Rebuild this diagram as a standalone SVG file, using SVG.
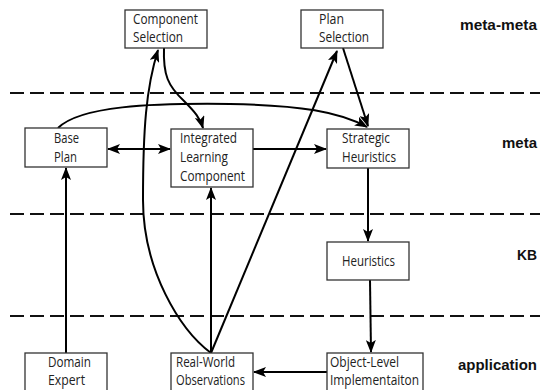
<svg xmlns="http://www.w3.org/2000/svg" width="540" height="390" viewBox="0 0 540 390">
<style>
.box{fill:#fff;stroke:#333;stroke-width:1.3}
.t{font-family:"Open Sans","Liberation Sans",sans-serif;font-size:14px;fill:#222}
.lab{font-family:"Liberation Sans",Arial,sans-serif;font-size:15px;font-weight:bold;fill:#111;text-anchor:end}
.dash{stroke:#111;stroke-width:2;stroke-dasharray:14 6;fill:none}
.c{stroke:#000;stroke-width:2;fill:none;marker-end:url(#ah)}
</style>
<defs>
<marker id="ah" viewBox="0 0 13 10" refX="12" refY="5" markerWidth="13" markerHeight="10" markerUnits="userSpaceOnUse" orient="auto-start-reverse">
<path d="M0,0 L13,5 L0,10 L3,5 z" fill="#000"/>
</marker>
</defs>
<g id="layers">
<line class="dash" x1="10" y1="93" x2="540" y2="93"/>
<line class="dash" x1="10" y1="214" x2="540" y2="214"/>
<line class="dash" x1="10" y1="316" x2="540" y2="316"/>
<text class="lab" x="537" y="30" textLength="77" lengthAdjust="spacingAndGlyphs">meta-meta</text>
<text class="lab" x="537" y="148" textLength="35" lengthAdjust="spacingAndGlyphs">meta</text>
<text class="lab" x="537" y="260" textLength="20" lengthAdjust="spacingAndGlyphs">KB</text>
<text class="lab" x="537" y="370" textLength="79" lengthAdjust="spacingAndGlyphs">application</text>
</g>
<g id="connectors">
<path class="c" d="M66,353 L66,168"/>
<path class="c" d="M108,149 L170,149" style="marker-start:url(#ah)"/>
<path class="c" d="M253,149 L326,149"/>
<path class="c" d="M58,128 C80,106 150,103 230,104 C300,105 340,112 367,127"/>
<path class="c" d="M164,48 C163,75 168,86 184,101 C195,112 200,118 203,128"/>
<path class="c" d="M211,353 L211,188"/>
<path class="c" d="M211,353 C180,330 143,270 143,200 C143,130 146,88 158,50"/>
<path class="c" d="M211,353 L337,51"/>
<path class="c" d="M343,48 L368,126"/>
<path class="c" d="M368,168 L368,241"/>
<path class="c" d="M370,280 L371,352"/>
<path class="c" d="M327,372 L254,372"/>
</g>
<g id="component-selection">
<rect class="box" x="125" y="10" width="82" height="38"/>
<text class="t" x="133" y="24" textLength="65" lengthAdjust="spacingAndGlyphs">Component</text>
<text class="t" x="133" y="42" textLength="50" lengthAdjust="spacingAndGlyphs">Selection</text>
</g>
<g id="plan-selection">
<rect class="box" x="301" y="10" width="82" height="38"/>
<text class="t" x="319" y="24" textLength="25" lengthAdjust="spacingAndGlyphs">Plan</text>
<text class="t" x="319" y="42" textLength="50" lengthAdjust="spacingAndGlyphs">Selection</text>
</g>
<g id="base-plan">
<rect class="box" x="25" y="128" width="82" height="39"/>
<text class="t" x="54" y="143" textLength="25" lengthAdjust="spacingAndGlyphs">Base</text>
<text class="t" x="54" y="162" textLength="23" lengthAdjust="spacingAndGlyphs">Plan</text>
</g>
<g id="integrated-learning-component">
<rect class="box" x="171" y="129" width="82" height="58"/>
<text class="t" x="180" y="143" textLength="57" lengthAdjust="spacingAndGlyphs">Integrated</text>
<text class="t" x="180" y="162" textLength="48" lengthAdjust="spacingAndGlyphs">Learning</text>
<text class="t" x="180" y="181" textLength="65" lengthAdjust="spacingAndGlyphs">Component</text>
</g>
<g id="strategic-heuristics">
<rect class="box" x="327" y="129" width="82" height="39"/>
<text class="t" x="342" y="143" textLength="48" lengthAdjust="spacingAndGlyphs">Strategic</text>
<text class="t" x="342" y="162" textLength="54" lengthAdjust="spacingAndGlyphs">Heuristics</text>
</g>
<g id="heuristics">
<rect class="box" x="327" y="242" width="82" height="38"/>
<text class="t" x="342" y="266" textLength="53" lengthAdjust="spacingAndGlyphs">Heuristics</text>
</g>
<g id="domain-expert">
<rect class="box" x="25" y="353" width="82" height="40"/>
<text class="t" x="48" y="367" textLength="43" lengthAdjust="spacingAndGlyphs">Domain</text>
<text class="t" x="48" y="385" textLength="37" lengthAdjust="spacingAndGlyphs">Expert</text>
</g>
<g id="real-world-observations">
<rect class="box" x="171" y="353" width="82" height="40"/>
<text class="t" x="176" y="367" textLength="59" lengthAdjust="spacingAndGlyphs">Real-World</text>
<text class="t" x="176" y="385" textLength="69" lengthAdjust="spacingAndGlyphs">Observations</text>
</g>
<g id="object-level-implementation">
<rect class="box" x="327" y="353" width="96" height="40"/>
<text class="t" x="330" y="367" textLength="69" lengthAdjust="spacingAndGlyphs">Object-Level</text>
<text class="t" x="330" y="385" textLength="89" lengthAdjust="spacingAndGlyphs">Implementaiton</text>
</g>
</svg>
